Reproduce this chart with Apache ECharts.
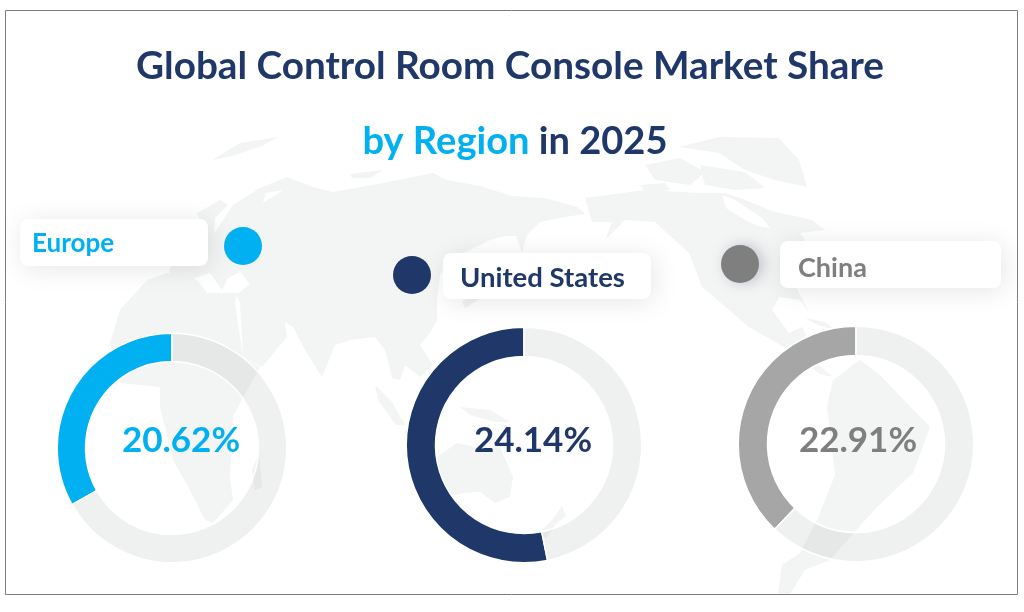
<!DOCTYPE html>
<html><head><meta charset="utf-8">
<script src="https://cdn.jsdelivr.net/npm/echarts@6/dist/echarts.min.js"></script>
<style>html,body{margin:0;padding:0;background:#fff}#c{width:1024px;height:612px}</style>
</head><body><div id="c"></div>
<script>
const regions = ['Europe', 'United States', 'China'];
const shareLabels = ['20.62%', '24.14%', '22.91%'];
const arcValues = [33.2, 53.2, 37.9];
const restValues = [66.8, 46.8, 62.1];
const colors = ['#00B0F0', '#1F3869', '#A6A6A6'];
const textColors = ['#00B0F0', '#1F3869', '#7F7F7F'];
const dotColors = ['#00B0F0', '#1F3869', '#7F7F7F'];
const ringCenters = [[172, 448], [524, 445], [856, 444]];
const ringRadii = [[86.5, 114.8], [88.5, 117.8], [88.5, 117.8]];
const valueCenters = [[181, 441], [533, 441], [858, 441]];
const cards = [[20, 219, 188, 47], [443, 253, 208, 46], [780, 241, 221, 47]];
const cardTextX = [32, 460, 798];
const cardTextY = [244, 278, 268];
const cardFontSizes = [26, 27.5, 27];
const dots = [[243, 246], [412, 275], [740, 264]];

const F = 'Lato, "Open Sans", sans-serif';
const MAP = '#f3f4f4';
// Decorative backdrop: simplified land outlines (not data)
const land = [
 // Eurasia
 [[233,205],[260,188],[287,177],[313,187],[333,192],[383,183],[433,173],[447,180],[480,186],[512,196],[545,198],[577,207],[585,214],[565,217],[540,222],[527,235],[522,252],[516,236],[505,236],[490,240],[470,250],[450,258],[440,275],[437,300],[437,320],[430,333],[420,345],[433,365],[420,377],[405,365],[400,380],[392,378],[385,350],[375,337],[350,340],[335,345],[322,377],[305,350],[293,327],[285,322],[287,337],[262,367],[243,357],[240,303],[236,295],[250,284],[240,272],[228,278],[222,290],[210,273],[195,278],[187,290],[168,285],[170,268],[190,240],[212,236],[222,222]],
 // Scandinavia
 [[197,213],[220,200],[228,205],[215,218],[214,236],[205,240],[202,225]],
 // Africa
 [[147,280],[167,273],[197,280],[207,293],[237,293],[235,303],[243,357],[260,367],[243,397],[233,417],[230,477],[233,500],[213,523],[205,520],[190,490],[173,460],[160,407],[160,387],[120,383],[110,343],[120,310]],
 // Madagascar
 [[259,452],[262,487],[255,490],[252,470]],
 // Australia
 [[437,457],[457,443],[475,447],[490,452],[497,440],[513,477],[510,497],[495,503],[480,492],[463,493],[440,498],[436,480]],
 // New Guinea
 [[460,407],[490,410],[510,422],[495,422],[470,415]],
 // Borneo / Sumatra / Java
 [[420,402],[440,395],[445,412],[428,420]],
 [[375,385],[392,402],[405,425],[396,425],[378,400]],
 [[405,430],[435,434],[435,438],[405,435]],
 [[440,378],[446,378],[452,398],[444,396]],
 // New Zealand
 [[562,506],[566,516],[556,524],[546,538],[538,534],[552,520]],
 // Japan
 [[462,302],[478,290],[492,283],[495,288],[478,300],[465,308]],
 // Top island
 [[212,160],[240,143],[278,137],[262,146],[232,156]],
 [[350,174],[383,170],[370,178],[352,178]],
 // North America
 [[585,198],[645,190],[699,193],[725,193],[745,200],[775,212],[800,217],[812,220],[825,230],[800,233],[805,240],[790,270],[799,293],[809,312],[800,300],[779,297],[772,310],[789,333],[802,327],[806,335],[800,345],[815,362],[833,377],[820,374],[789,350],[749,327],[702,287],[689,253],[655,222],[625,220],[605,240],[612,222],[592,222]],
 // Arctic islands
 [[645,165],[680,158],[705,172],[690,185],[655,180]],
 [[700,165],[745,172],[765,188],[735,190],[705,185]],
 [[640,185],[665,183],[670,190],[645,192]],
 // Greenland
 [[679,147],[719,137],[779,138],[799,160],[807,187],[775,180],[745,170],[719,153]],
 // Cuba
 [[805,318],[825,322],[835,330],[818,325]],
 // South America
 [[833,380],[860,360],[880,375],[897,393],[930,427],[913,473],[877,507],[850,537],[830,560],[805,570],[790,594],[778,594],[782,565],[800,553],[817,520],[835,475],[827,407]]
];
const gaps = [
 // Hudson Bay
 [[722,195],[735,200],[762,218],[770,228],[758,226],[745,220],[726,208]],
 // Baltic
 [[263,203],[283,190],[266,193]],
 // Mediterranean patch
 [[197,280],[222,290],[237,293],[208,293]]
];
function poly(points, fill, z){
  return {type:'polygon', z:z, silent:true, shape:{points:points}, style:{fill:fill}};
}
const graphic = [];
land.forEach(p => graphic.push(poly(p, MAP, 0)));
gaps.forEach(p => graphic.push(poly(p, '#ffffff', 1)));

graphic.push({type:'rect', z:1, silent:true, shape:{x:5.5,y:10.5,width:1012,height:584}, style:{fill:'none',stroke:'#7f7f7f',lineWidth:1}});

regions.forEach((r,i) => {
  const c = cards[i];
  graphic.push({type:'rect', z:3, shape:{x:c[0],y:c[1],width:c[2],height:c[3],r:8},
    style:{fill:'#fff',shadowBlur:26,shadowColor:'rgba(0,0,0,0.10)',shadowOffsetX:3,shadowOffsetY:3}});
  graphic.push({type:'text', z:6, x:cardTextX[i], y:cardTextY[i],
    style:{text:r,fill:textColors[i],font:'700 '+cardFontSizes[i]+'px '+F,textVerticalAlign:'middle',textBaseline:'middle'}});
  graphic.push({type:'circle', z:4, shape:{cx:dots[i][0],cy:dots[i][1],r:19},
    style: i===2 ? {fill:dotColors[i],shadowBlur:14,shadowColor:'rgba(90,100,120,0.35)',shadowOffsetX:4}:{fill:dotColors[i]}});
  graphic.push({type:'text', z:6, x:valueCenters[i][0], y:valueCenters[i][1],
    style:{text:shareLabels[i],fill:textColors[i],font:'700 35px '+F,textAlign:'center',textVerticalAlign:'middle',textBaseline:'middle'}});
});

const series = regions.map((r,i) => ({
  type:'pie', z:2, silent:true, animation:false,
  center:ringCenters[i], radius:ringRadii[i],
  startAngle:90, clockwise:false, label:{show:false}, labelLine:{show:false},
  itemStyle:{borderColor:'#fff',borderWidth:1.5},
  data:[
    {name:r, value:arcValues[i], itemStyle:{color:colors[i]}},
    {name:'Other', value:restValues[i], itemStyle:{color:'rgba(195,198,198,0.26)'}}
  ]
}));

const chart = echarts.init(document.getElementById('c'), null, {renderer:'canvas'});
chart.setOption({
  backgroundColor:'#fff', animation:false,
  title:[
    {text:'Global Control Room Console Market Share', left:505, top:39, textAlign:'center', z:6,
     textStyle:{color:'#1F3869',fontFamily:F,fontWeight:700,fontSize:38.7,lineHeight:46}},
    {text:'{a|by Region}{b| in 2025}', left:510, top:114, textAlign:'center', z:6,
     textStyle:{rich:{a:{color:'#00B0F0',fontFamily:F,fontWeight:700,fontSize:38.1,lineHeight:46},
                      b:{color:'#1F3869',fontFamily:F,fontWeight:700,fontSize:38.1,lineHeight:46}}}}
  ],
  graphic:{elements:graphic},
  series:series
});
</script></body></html>
